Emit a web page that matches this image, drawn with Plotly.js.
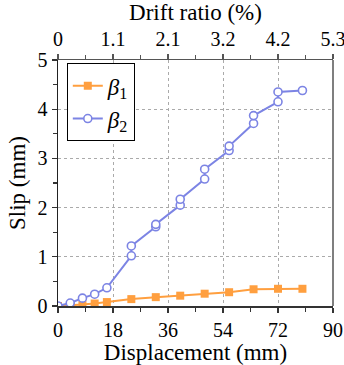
<!DOCTYPE html>
<html>
<head>
<meta charset="utf-8">
<script src="https://cdn.plot.ly/plotly-3.0.1.min.js"></script>
<style>html,body{margin:0;padding:0;background:#fff;}#chart{width:344px;height:365px;}</style>
</head>
<body>
<div id="chart"></div>
<script>
// Displacement (mm) for each load step
const beta1Disp = [0, 4, 8, 12, 16, 24, 32, 40, 48, 56, 64, 72, 80];
const beta1Slip = [0, 0.01, 0.03, 0.05, 0.08, 0.14, 0.18, 0.21, 0.25, 0.28, 0.34, 0.35, 0.35];
const beta2Disp = [0, 4, 8, 12, 16, 24, 24, 32, 32, 40, 40, 48, 48, 56, 56, 64, 64, 72, 72, 80];
const beta2Slip = [0, 0.06, 0.16, 0.24, 0.37, 1.02, 1.22, 1.61, 1.66, 2.05, 2.17, 2.58, 2.78, 3.16, 3.25, 3.71, 3.87, 4.15, 4.35, 4.38];
const dispTicks = [0, 18, 36, 54, 72, 90];
const driftTickLabels = ['0', '1.1', '2.1', '3.2', '4.2', '5.3'];
const seriesNames = ['<i>β</i><sub>1</sub>', '<i>β</i><sub>2</sub>'];

const orange = '#FF9F3F';
const blue = '#7C84E4';
const font = '"Liberation Serif", "Times New Roman", Times, serif';

const traces = [
  {
    x: beta1Disp, y: beta1Slip, name: seriesNames[0], type: 'scatter', mode: 'lines+markers',
    line: {color: orange, width: 2},
    marker: {symbol: 'square', size: 8, color: orange}
  },
  {
    x: beta2Disp, y: beta2Slip, name: seriesNames[1], type: 'scatter', mode: 'lines+markers',
    line: {color: blue, width: 2},
    marker: {symbol: 'circle', size: 8, color: '#fff', line: {color: blue, width: 1.6}}
  },
  {
    x: dispTicks, y: [null, null, null, null, null, null], xaxis: 'x2', yaxis: 'y',
    showlegend: false, hoverinfo: 'skip', mode: 'markers'
  }
];

const layout = {
  width: 344, height: 365,
  margin: {l: 58, r: 11, t: 60, b: 59},
  paper_bgcolor: '#fff', plot_bgcolor: '#fff',
  font: {family: font, size: 20, color: '#000'},
  showlegend: true,
  legend: {
    x: 0.032, y: 0.987, xanchor: 'left', yanchor: 'top',
    bgcolor: '#fff', bordercolor: '#000', borderwidth: 1,
    font: {family: font, size: 23}, tracegroupgap: 4,
    itemwidth: 30
  },
  xaxis: {
    range: [0, 90], tickvals: dispTicks, ticktext: dispTicks.map(String),
    ticks: 'outside', ticklen: 5, tickwidth: 1.2, tickcolor: '#333',
    showline: true, linecolor: '#333', linewidth: 1.5, mirror: false,
    showgrid: true, gridcolor: '#aaa', griddash: 'dot', gridwidth: 1,
    zeroline: false, ticklabeloverflow: 'allow',
    minor: {dtick: 9, tick0: 0, ticks: 'outside', ticklen: 4, tickcolor: '#333', showgrid: false},
    tickfont: {family: font, size: 20},
    title: {text: 'Displacement (mm)', font: {family: font, size: 23}, standoff: 4}
  },
  xaxis2: {
    overlaying: 'x', side: 'top', range: [0, 90], tickvals: dispTicks, ticktext: driftTickLabels,
    ticks: 'outside', ticklen: 5, tickwidth: 1.2, tickcolor: '#555',
    showline: true, linecolor: '#555', linewidth: 1.5,
    showgrid: false, zeroline: false, ticklabeloverflow: 'allow',
    minor: {dtick: 9, tick0: 0, ticks: 'outside', ticklen: 4, tickcolor: '#555', showgrid: false},
    tickfont: {family: font, size: 20},
    title: {text: 'Drift ratio (%)', font: {family: font, size: 23}, standoff: 3}
  },
  yaxis: {
    range: [0, 5], dtick: 1,
    ticks: 'outside', ticklen: 5, tickwidth: 1.2, tickcolor: '#333',
    showline: true, linecolor: '#222', linewidth: 1.5, mirror: false,
    showgrid: true, gridcolor: '#aaa', griddash: 'dot', gridwidth: 1,
    zeroline: false,
    minor: {dtick: 0.5, ticks: 'outside', ticklen: 4, tickcolor: '#333', showgrid: false},
    tickfont: {family: font, size: 20},
    title: {text: 'Slip (mm)', font: {family: font, size: 23}, standoff: 5}
  },
  shapes: [
    {type: 'line', xref: 'paper', yref: 'paper', x0: 1, x1: 1, y0: 0, y1: 1,
     line: {color: '#555', width: 1.5}}
  ]
};

Plotly.newPlot('chart', traces, layout, {displayModeBar: false, staticPlot: true});
</script>
</body>
</html>
